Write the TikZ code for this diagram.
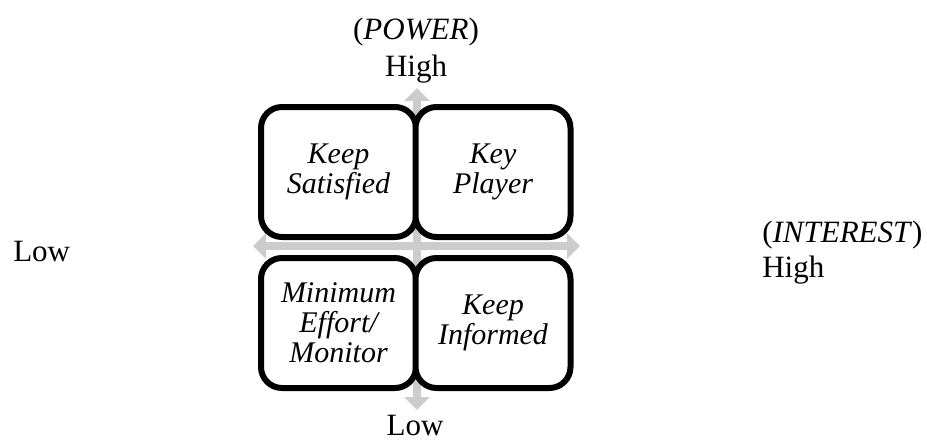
\documentclass[tikz,border=0pt]{standalone}
\usepackage{fontspec}
\setmainfont{Liberation Serif}
\usetikzlibrary{arrows.meta}
\begin{document}
\begin{tikzpicture}[x=0.75pt,y=-0.75pt,
  axis/.style={draw=gray!40,line width=6pt,{Triangle[width=18.75pt,length=9.75pt]}-{Triangle[width=18.75pt,length=9.75pt]}},
  quad/.style={draw,fill=white,line width=4.5pt,rounded corners=15.75pt,minimum width=155*0.75pt,minimum height=130*0.75pt,align=center,inner sep=0pt,font=\fontsize{22.5}{22.5}\selectfont\itshape},
  lbl/.style={inner sep=0pt,font=\fontsize{23.25}{27}\selectfont}]
\useasboundingbox (0,0) rectangle (927,443);
\coordinate (lowI) at (253,246);
\coordinate (highI) at (580,246);
\coordinate (highP) at (417,88);
\coordinate (lowP) at (417,410);
\draw[axis](lowI)--(highI);
\draw[axis](lowP)--(highP);
\foreach \n/\x/\y/\t in {ks/338.5/172/{Keep\\Satisfied},kp/493/172/{Key\\Player},
  me/338.5/323/{Minimum\\Effort/\\Monitor},ki/493/323/{Keep\\Informed}}
{
    \node[quad] (\n) at (\x,\y) {\t};
}
\node[lbl,anchor=base] (power) at (416,39) {(\textit{POWER})};
\node[lbl,anchor=base] (phigh) at (416,76) {High};
\node[lbl,anchor=base] (plow) at (415,435) {Low};
\node[lbl,anchor=base west] (ilow) at (13,261) {Low};
\node[lbl,anchor=base west] (interest) at (762,242) {(\textit{INTEREST})};
\node[lbl,anchor=base west] (ihigh) at (762,277) {High};
\end{tikzpicture}
\end{document}
